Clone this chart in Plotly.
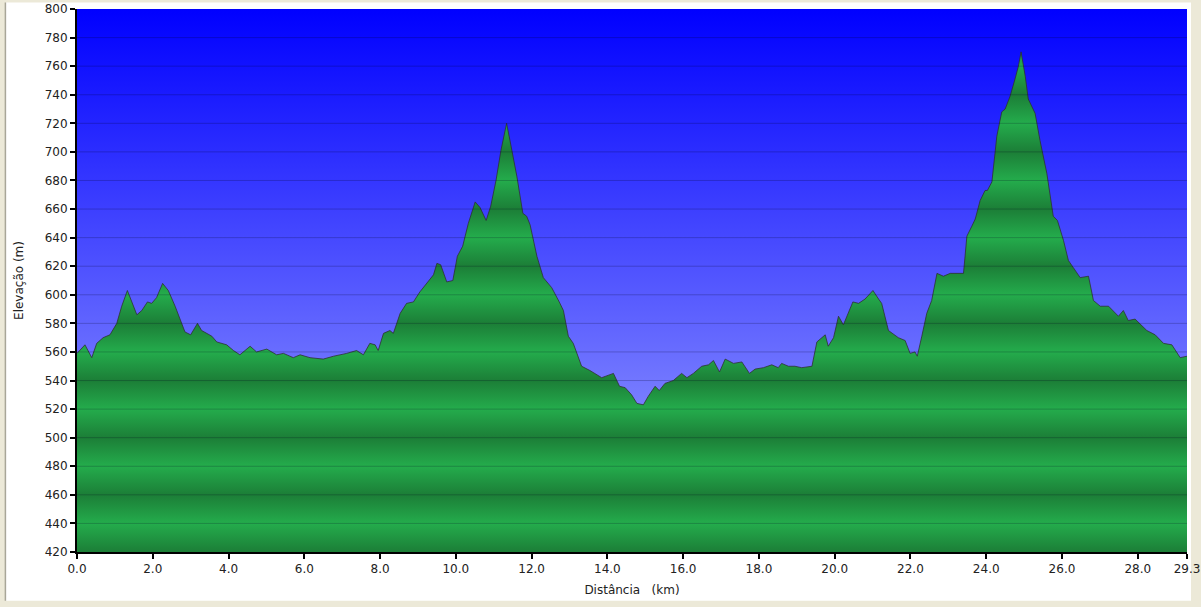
import plotly.graph_objects as go

# elevation profile (km, m)
dist_km = [0.0, 0.21, 0.39, 0.52, 0.69, 0.87, 1.05, 1.18, 1.33, 1.44,
           1.58, 1.71, 1.86, 1.97, 2.10, 2.26, 2.41, 2.59, 2.85, 3.00,
           3.18, 3.29, 3.56, 3.69, 3.95, 4.13, 4.30, 4.57, 4.74, 5.01,
           5.27, 5.45, 5.71, 5.89, 6.15, 6.50, 6.77, 7.12, 7.38, 7.56,
           7.73, 7.87,
           7.95, 8.09, 8.26, 8.35, 8.53, 8.70, 8.88, 9.05, 9.27, 9.41,
           9.50, 9.60, 9.76, 9.92, 10.04, 10.18, 10.33, 10.51, 10.64, 10.80,
           10.92, 11.06, 11.19, 11.34, 11.48, 11.61, 11.77, 11.87, 11.96, 12.14,
           12.31, 12.53, 12.73, 12.84, 12.97, 13.10,
           13.32, 13.54, 13.85, 14.16, 14.32, 14.47, 14.64, 14.78, 14.95, 15.08,
           15.26, 15.37, 15.52, 15.74, 15.96, 16.10, 16.27, 16.49, 16.67, 16.80,
           16.96, 17.11, 17.33, 17.55, 17.75, 17.90, 18.12, 18.34, 18.51, 18.60,
           18.78, 18.95, 19.13, 19.31, 19.40, 19.53, 19.75, 19.83, 19.97, 20.10,
           20.23, 20.48, 20.63, 20.80, 21.01, 21.16, 21.24, 21.42, 21.68,
           21.86, 21.99, 22.12, 22.18, 22.30, 22.43, 22.56, 22.70, 22.87, 23.05,
           23.40, 23.49, 23.62, 23.71, 23.84, 23.97, 24.03, 24.15, 24.28, 24.41,
           24.50, 24.63, 24.76, 24.85, 24.92, 25.03, 25.11, 25.29, 25.42, 25.60,
           25.77, 25.88, 26.04, 26.17, 26.30, 26.48, 26.70, 26.83, 27.01, 27.23,
           27.49, 27.62, 27.75, 27.93, 28.24, 28.46, 28.68, 28.90, 29.12, 29.3]

elev_m = [559, 565, 556, 566, 570, 572, 580, 592, 603, 596,
          586, 589, 595, 594, 598, 608, 603, 592, 574, 572,
          580, 575, 571, 567, 565, 561, 558, 564, 560, 562,
          558, 559, 556, 558, 556, 555, 557, 559, 561, 558,
          566, 565,
          561, 573, 575, 573, 587, 594, 595, 602, 609, 614,
          622, 621, 609, 610, 627, 634, 650, 665, 661, 652,
          662, 680, 701, 720, 701, 683, 657, 655, 649, 627,
          612, 605, 595, 589, 571, 566,
          550, 547, 542, 545, 536, 535, 530, 524, 523, 529,
          536, 533, 538, 540, 545, 542, 545, 550, 551, 554,
          546, 555, 552, 553, 545, 548, 549, 551, 549, 552,
          550, 550, 549, 550, 550, 567, 572, 564, 570, 585,
          579, 595, 594, 597, 603, 597, 594, 575, 570,
          568, 559, 560, 557, 571, 587, 596, 615, 613, 615,
          615, 641, 648, 653, 666, 673, 673, 679, 711, 728,
          730, 739, 751, 760, 770, 753, 737, 727, 708, 685,
          655, 652, 638, 624, 619, 612, 613, 596, 592, 592,
          585, 589, 582, 583, 575, 572, 566, 565, 556, 557]

y_ticks = list(range(420, 801, 20))
x_ticks = [0, 2, 4, 6, 8, 10, 12, 14, 16, 18, 20, 22, 24, 26, 28, 29.3]
x_labels = ["0.0", "2.0", "4.0", "6.0", "8.0", "10.0", "12.0", "14.0", "16.0",
            "18.0", "20.0", "22.0", "24.0", "26.0", "28.0", "29.3"]

y_min, y_max = 420, 800
x_max = 29.3

# green bands: dark every 40 m starting at 420, light in between
dark = "rgb(28,126,55)"
light = "rgb(36,172,76)"
n = (y_max - y_min) // 20
green_scale = [[i / n, dark if i % 2 == 0 else light] for i in range(n + 1)]

fig = go.Figure()

# sky background
fig.add_trace(go.Scatter(
    x=[0, x_max], y=[y_max, y_max], mode="lines", line=dict(width=0),
    fill="tozeroy",
    fillgradient=dict(type="vertical", start=y_min, stop=y_max,
                      colorscale=[[0, "rgb(165,172,255)"], [1, "rgb(0,0,255)"]]),
    hoverinfo="skip", showlegend=False))

fig.add_trace(go.Scatter(
    x=dist_km, y=elev_m, mode="lines",
    line=dict(color="rgba(45,45,45,0.75)", width=1),
    fill="tozeroy",
    fillgradient=dict(type="vertical", start=y_min, stop=y_max, colorscale=green_scale),
    showlegend=False))

shapes = [dict(type="rect", xref="paper", yref="paper",
               x0=-0.064, x1=1.0036, y0=-0.09, y1=1.012,
               fillcolor="white", line=dict(width=0), layer="below"),
          dict(type="line", xref="paper", yref="paper",
               x0=-0.0645, x1=-0.0645, y0=-0.09, y1=1.012,
               line=dict(color="#A8A698", width=1.5), layer="below")]
for v in y_ticks[1:-1]:
    shapes.append(dict(type="line", xref="paper", yref="y", x0=0, x1=1, y0=v, y1=v,
                       line=dict(color="rgba(0,0,30,0.22)", width=1), layer="above"))

fig.update_layout(
    width=1201, height=607,
    margin=dict(l=77, r=14, t=9, b=55),
    paper_bgcolor="#ECE9D8",
    plot_bgcolor="white",
    font=dict(family="DejaVu Sans", size=12, color="#222222"),
    shapes=shapes,
    xaxis=dict(range=[0, x_max], tickvals=x_ticks, ticktext=x_labels, automargin=False,
               showgrid=False, zeroline=False, showline=True, linecolor="black",
               linewidth=2, ticks="outside", ticklen=5, tickwidth=1.5, tickcolor="black",
               title=dict(text="Distância   (km)", standoff=10, font=dict(size=12))),
    yaxis=dict(range=[y_min, y_max], tickvals=y_ticks, automargin=False,
               showgrid=False, zeroline=False, showline=True, linecolor="black",
               linewidth=2, ticks="outside", ticklen=5, tickwidth=1.5, tickcolor="black",
               title=dict(text="Elevação (m)", standoff=18, font=dict(size=12))),
)

fig.write_html("out.html", config={"displayModeBar": False},
               post_script="document.body.style.margin='0';")
